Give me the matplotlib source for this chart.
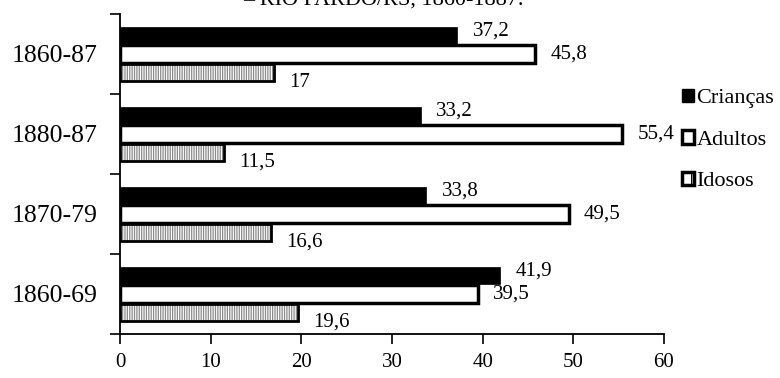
import numpy as np
import matplotlib.pyplot as plt
from matplotlib.patches import Patch

plt.rcParams['font.family'] = ['Liberation Serif', 'DejaVu Serif']
plt.rcParams['hatch.linewidth'] = 0.9

periodos = ['1860-69', '1870-79', '1880-87', '1860-87']
criancas = [41.9, 33.8, 33.2, 37.2]
adultos = [39.5, 49.5, 55.4, 45.8]
idosos = [19.6, 16.6, 11.5, 17.0]

def fmt(v):
    return ('%g' % v).replace('.', ',')

fig = plt.figure(figsize=(7.8, 3.78), dpi=100)
ax = fig.add_axes([120 / 780, 1 - 334 / 378, 544 / 780, 320 / 378])

y = np.arange(len(periodos))
h = 0.22

# crianças: preto sólido
ax.barh(y + 0.23, criancas, height=h, color='black', edgecolor='black', linewidth=0.5)
# adultos: branco com borda grossa
ax.barh(y, adultos, height=h, color='white', edgecolor='black', linewidth=2.5)
# idosos: hachurado vertical cinza + contorno preto
ax.barh(y - 0.23, idosos, height=h, color='white', edgecolor='#8a8a8a', hatch='|' * 7, linewidth=0)
ax.barh(y - 0.23, idosos, height=h, fill=False, edgecolor='black', linewidth=2)

for yi, v in zip(y, criancas):
    ax.annotate(fmt(v), (v, yi + 0.23), xytext=(11, 3), textcoords='offset points',
                va='center', ha='left', fontsize=15)
for yi, v in zip(y, adultos):
    ax.annotate(fmt(v), (v, yi), xytext=(11, 0), textcoords='offset points',
                va='center', ha='left', fontsize=15)
for yi, v in zip(y, idosos):
    ax.annotate(fmt(v), (v, yi - 0.23), xytext=(11, -7), textcoords='offset points',
                va='center', ha='left', fontsize=15)

ax.set_xlim(0, 60)
ax.set_ylim(-0.5, 3.5)
ax.set_xticks(range(0, 61, 10))
ax.tick_params(axis='x', direction='out', length=7, width=1.2, pad=7, labelsize=15)

# marcas nos limites das categorias, rótulos no centro
ax.set_yticks(np.arange(-0.5, 3.6, 1))
ax.set_yticklabels([])
ax.tick_params(axis='y', which='major', direction='out', length=7, width=1.2)
ax.set_yticks(y, minor=True)
ax.set_yticklabels(periodos, minor=True, fontsize=18.5)
ax.tick_params(axis='y', which='minor', length=0, pad=16)

for s in ['top', 'right']:
    ax.spines[s].set_visible(False)
for s in ['left', 'bottom']:
    ax.spines[s].set_linewidth(1.3)

handles = [
    Patch(facecolor='black', edgecolor='black', label='Crianças'),
    Patch(facecolor='white', edgecolor='black', linewidth=2.5, label='Adultos'),
    Patch(facecolor='white', edgecolor='black', linewidth=2.5, hatch='|', label='Idosos'),
]
fig.legend(handles=handles, loc='upper left', bbox_to_anchor=(673 / 780, 1 - 80 / 378),
           frameon=False, fontsize=16, handlelength=0.55, handleheight=0.55,
           handletextpad=0.1, labelspacing=0.98, borderaxespad=0)

fig.text(383 / 780, 1 - 5 / 378, '– RIO PARDO/RS, 1860-1887.', ha='center', va='baseline',
         fontsize=16)

fig.savefig('out.png', dpi=100)
